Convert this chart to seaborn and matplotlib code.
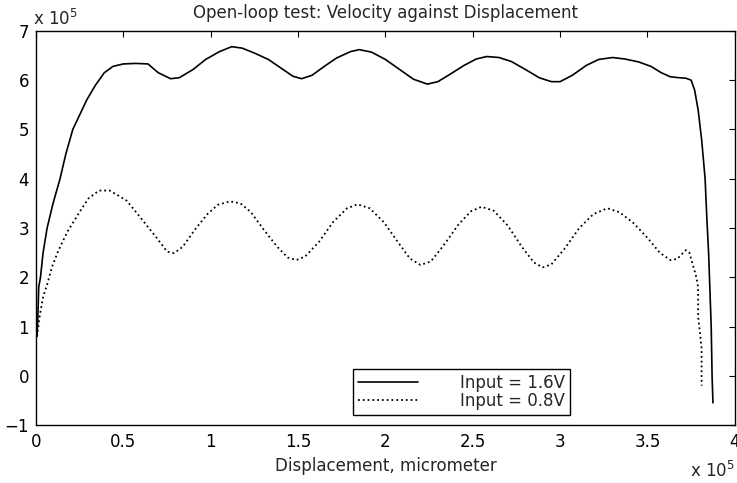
import matplotlib
matplotlib.use("Agg")
import matplotlib.pyplot as plt
import seaborn as sns
import pandas as pd

# Data in units of 1e5
x_hi = [0.005, 0.01, 0.015, 0.025, 0.04, 0.063, 0.097, 0.137, 0.17, 0.21, 0.25, 0.29, 0.34,
        0.39, 0.44, 0.50, 0.57, 0.64, 0.70, 0.77, 0.82, 0.90, 0.97, 1.05, 1.12, 1.18,
        1.25, 1.33, 1.40, 1.47, 1.52, 1.58, 1.65, 1.72, 1.80, 1.85, 1.92, 2.00, 2.08, 2.16,
        2.24, 2.30, 2.37, 2.45, 2.52, 2.58, 2.65, 2.72, 2.80, 2.88, 2.95, 3.00, 3.07, 3.15,
        3.22, 3.30, 3.37, 3.45, 3.52, 3.58, 3.63, 3.68, 3.72, 3.75, 3.77, 3.79, 3.81, 3.83,
        3.84, 3.85, 3.86, 3.865, 3.87, 3.875]
y_hi = [0.8, 1.2, 1.8, 2.0, 2.5, 3.0, 3.5, 4.0, 4.5, 5.0, 5.3, 5.6, 5.9,
        6.15, 6.28, 6.33, 6.34, 6.33, 6.15, 6.03, 6.05, 6.22, 6.42, 6.58, 6.68, 6.65,
        6.55, 6.42, 6.25, 6.08, 6.03, 6.10, 6.28, 6.45, 6.58, 6.62, 6.57, 6.42, 6.22, 6.02,
        5.92, 5.97, 6.12, 6.30, 6.43, 6.48, 6.46, 6.38, 6.22, 6.05, 5.97, 5.97, 6.10, 6.30,
        6.42, 6.46, 6.43, 6.37, 6.28, 6.15, 6.07, 6.05, 6.04, 6.00, 5.80, 5.40, 4.80, 4.00,
        3.20, 2.50, 1.50, 1.00, 0.00, -0.55]

x_lo = [0.005, 0.02, 0.04, 0.063, 0.09, 0.126, 0.18, 0.25, 0.30, 0.36, 0.42, 0.47, 0.52,
        0.60, 0.69, 0.75, 0.79, 0.84, 0.91, 0.98, 1.04, 1.11, 1.17, 1.23, 1.30, 1.38, 1.44,
        1.49, 1.54, 1.62, 1.70, 1.78, 1.84, 1.91, 1.99, 2.07, 2.14, 2.20, 2.26, 2.34, 2.42,
        2.49, 2.55, 2.62, 2.70, 2.78, 2.85, 2.90, 2.95, 3.03, 3.11, 3.19, 3.27, 3.34, 3.42,
        3.50, 3.57, 3.63, 3.67, 3.70, 3.72, 3.74, 3.76, 3.78, 3.79, 3.79, 3.80, 3.81, 3.81]
y_lo = [0.8, 1.2, 1.6, 1.85, 2.2, 2.53, 2.93, 3.33, 3.6, 3.76, 3.76, 3.66, 3.55,
        3.20, 2.80, 2.52, 2.49, 2.62, 2.97, 3.28, 3.47, 3.54, 3.50, 3.32, 2.98, 2.62, 2.40,
        2.35, 2.42, 2.72, 3.12, 3.40, 3.48, 3.40, 3.12, 2.72, 2.38, 2.25, 2.32, 2.68, 3.08,
        3.34, 3.43, 3.35, 3.05, 2.62, 2.30, 2.20, 2.26, 2.60, 3.00, 3.28, 3.40, 3.32, 3.10,
        2.80, 2.50, 2.35, 2.37, 2.48, 2.55, 2.50, 2.25, 2.00, 1.80, 1.20, 0.90, 0.55, -0.20]

labels = ["Input = 1.6V", "Input = 0.8V"]
x_ticks = [0, 0.5, 1, 1.5, 2, 2.5, 3, 3.5, 4]
x_ticklabels = ["0", "0.5", "1", "1.5", "2", "2.5", "3", "3.5", "4"]
y_ticks = [-1, 0, 1, 2, 3, 4, 5, 6, 7]

sns.set_style("white")
plt.rcParams['font.family'] = ['DejaVu Sans']
plt.rcParams['font.size'] = 12

fig = plt.figure(figsize=(7.37, 4.83), dpi=100)
ax = fig.add_axes([0.049, 0.120, 0.948, 0.816])

df_hi = pd.DataFrame({"x": x_hi, "y": y_hi})
df_lo = pd.DataFrame({"x": x_lo, "y": y_lo})
sns.lineplot(data=df_hi, x="x", y="y", sort=False, estimator=None, ax=ax,
             color="black", linewidth=1.2, linestyle="-", label=labels[0])
sns.lineplot(data=df_lo, x="x", y="y", sort=False, estimator=None, ax=ax,
             color="black", linewidth=1.3, linestyle=":", label=labels[1])

ax.set_xlim(0, 4)
ax.set_ylim(-1, 7)
ax.set_xticks(x_ticks)
ax.set_xticklabels(x_ticklabels)
ax.set_yticks(y_ticks)
ax.tick_params(axis="both", direction="in", top=True, right=True, length=4, width=0.8,
               labelsize=12, colors="black")
ax.tick_params(axis="x", pad=6)
ax.tick_params(axis="y", pad=5)
for s in ax.spines.values():
    s.set_color("black")
    s.set_linewidth(1.0)

ax.set_xlabel("Displacement, micrometer", fontsize=12, labelpad=4)
ax.set_ylabel("")
ax.set_title("Open-loop test: Velocity against Displacement", fontsize=12, pad=9)

fig.text(0.045, 0.948, r"x 10$^5$", fontsize=12, ha="left", va="baseline")
fig.text(0.997, 0.004, r"x 10$^5$", fontsize=12, ha="right", va="bottom")

leg = ax.legend(loc="upper left", bbox_to_anchor=(0.4535, 0.142), frameon=True,
                fancybox=False, edgecolor="black", framealpha=1, fontsize=12,
                handlelength=3.6, handletextpad=2.5, labelspacing=0.0,
                borderpad=0.3, borderaxespad=0)
leg.get_frame().set_linewidth(1.0)

fig.savefig("out.png", dpi=100)
